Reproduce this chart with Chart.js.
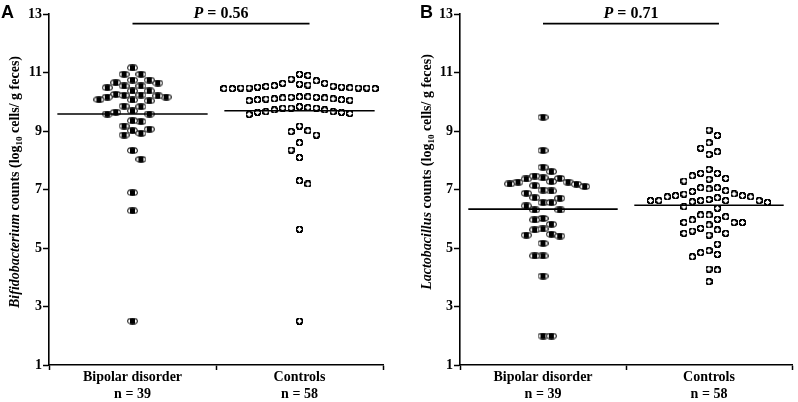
<!DOCTYPE html>
<html><head><meta charset="utf-8">
<script src="https://cdn.jsdelivr.net/npm/chart.js@4/dist/chart.umd.min.js"></script>
<style>
body{margin:0;background:#fff;width:798px;height:402px;overflow:hidden;position:relative}
canvas{position:absolute;top:0}
#ca{left:0}#cb{left:399px}
</style></head><body>
<canvas id="ca" width="399" height="402"></canvas>
<canvas id="cb" width="399" height="402"></canvas>
<script>
// ---------- data ----------
const groups = ['Bipolar disorder', 'Controls'];
const yTicks = [1, 3, 5, 7, 9, 11, 13];

const bifidoBipolar = [11.16, 10.94, 10.94, 10.74, 10.65, 10.54, 10.48, 10.54, 10.64, 10.74,
  10.37, 10.25, 10.22, 10.16, 10.06, 10.03, 10.07, 10.16, 10.20, 10.23, 10.37,
  9.85, 9.69, 9.58, 9.58, 9.64, 9.83, 9.32, 9.17, 9.35, 9.01, 8.86, 8.92, 9.06,
  8.33, 8.03, 6.89, 6.27, 2.50];
const bifidoControls = [10.90, 10.72, 10.77, 10.94,
  10.63, 10.60, 10.55, 10.52, 10.50, 10.47, 10.45, 10.45, 10.45, 10.47, 10.47, 10.47, 10.48, 10.50, 10.53, 10.57, 10.63,
  10.17, 10.15, 10.13, 10.10, 10.07, 10.05, 10.04, 10.07, 10.09, 10.10, 10.13, 10.15, 10.17,
  9.83, 9.80, 9.78, 9.72, 9.64, 9.60, 9.57, 9.64, 9.66, 9.66, 9.72, 9.78, 9.78,
  9.17, 9.01, 8.98, 8.86, 8.60, 8.35, 8.09, 7.30, 7.19, 5.64, 2.50];
const bifidoCenter = [9.58, 9.69];
const bifidoP = '0.56';

const lactoBipolar = [9.47, 8.33, 7.76, 7.61,
  7.40, 7.38, 7.25, 7.25, 7.27, 7.36, 7.46,
  7.18, 7.10, 6.95, 6.87, 6.98, 7.13, 7.19,
  6.70, 6.55, 6.44, 6.55, 6.72, 6.30, 6.30, 6.01, 5.96, 5.81, 5.62, 5.65, 5.47, 5.41, 5.44, 5.16, 4.73, 4.73,
  4.04, 1.99, 1.99];
const lactoControls = [9.03, 8.85, 8.60, 8.29, 8.20, 8.41,
  7.55, 7.38, 7.69, 7.29, 7.35, 7.47, 7.55,
  7.06, 7.02, 6.93, 6.84, 6.79, 6.75, 6.75, 6.79, 6.85, 6.96, 7.06,
  6.72, 6.62, 6.62, 6.62, 6.56, 6.36, 6.41, 6.58, 6.62, 6.62, 6.66,
  6.13, 6.07, 5.87, 5.96, 5.87, 5.98, 6.13, 5.79, 5.87,
  5.67, 5.58, 5.44, 5.50, 5.62, 5.50,
  5.13, 4.84, 4.70, 4.78, 4.91,
  4.28, 4.25, 3.85];
const lactoCenter = [6.33, 6.46];
const lactoP = '0.71';

// ---------- styling / layout ----------
const SERIF = '"Liberation Serif", "Times New Roman", serif';
const PX_PER_X = 167;      // approx pixels per category unit
const PX_PER_Y = 29.25;    // approx pixels per log unit

function bipolarMarker() {
  const c = document.createElement('canvas'); c.width = 11; c.height = 7;
  const g = c.getContext('2d');
  g.fillStyle = '#fff'; g.strokeStyle = '#222'; g.lineWidth = 1.1;
  g.beginPath(); g.ellipse(5.5, 3.5, 4.9, 2.9, 0, 0, Math.PI * 2); g.fill(); g.stroke();
  g.fillStyle = '#000'; g.fillRect(3, 1, 5, 5);
  return c;
}
function controlMarker() {
  const c = document.createElement('canvas'); c.width = 7; c.height = 7;
  const g = c.getContext('2d');
  g.fillStyle = '#000'; g.fillRect(0, 0, 7, 7);
  g.clearRect(0, 0, 1, 1); g.clearRect(6, 0, 1, 1); g.clearRect(0, 6, 1, 1); g.clearRect(6, 6, 1, 1);
  g.fillStyle = '#fff'; g.fillRect(2, 2, 3, 3); g.fillRect(3, 1, 1, 5); g.fillRect(1, 3, 5, 1);
  return c;
}
const mBip = bipolarMarker(), mCtl = controlMarker();

// beeswarm offsets (px) computed from the values
function swarm(vals, w, h) {
  const order = vals.map((v, i) => i).sort((a, b) => vals[b] - vals[a]);
  const placed = []; const off = new Array(vals.length); let side = 1;
  for (const i of order) {
    const y = vals[i] * PX_PER_Y;
    const near = placed.filter(p => Math.abs(p.y - y) < h);
    let cands = [0];
    near.forEach(p => cands.push(p.x + w, p.x - w));
    cands = [...new Set(cands.map(c => Math.round(c * 1000) / 1000))];
    cands.sort((a, b) => (Math.abs(a) - Math.abs(b)) || (side * (b - a)));
    let best = 0;
    for (const c of cands) {
      if (near.every(p => Math.abs(p.x - c) >= w - 1e-6)) { best = c; break; }
    }
    if (best !== 0) side = best > 0 ? -1 : 1;
    placed.push({ x: best, y }); off[i] = best;
  }
  return off;
}
function points(vals, center, w, h) {
  const off = swarm(vals, w, h);
  return vals.map((v, i) => ({ x: center + off[i] / PX_PER_X, y: v }));
}

const decor = {
  id: 'decor',
  afterDraw(chart, args, o) {
    const { ctx, scales: { x, y } } = chart;
    ctx.save();
    ctx.fillStyle = '#000';
    // panel letter
    ctx.font = 'bold 18px "Liberation Sans", Arial, sans-serif';
    ctx.textAlign = 'left'; ctx.textBaseline = 'alphabetic';
    ctx.fillText(o.letter, o.letterX, 18);
    // P value label
    const bx = (x.getPixelForValue(o.br[0]) + x.getPixelForValue(o.br[1])) / 2;
    const by = y.getPixelForValue(o.brY) - 6;
    const f1 = 'italic bold 16px ' + SERIF, f2 = 'bold 16px ' + SERIF;
    ctx.font = f1; const w1 = ctx.measureText('P').width;
    ctx.font = f2; const t2 = ' = ' + o.p; const w2 = ctx.measureText(t2).width;
    let sx = bx - (w1 + w2) / 2;
    ctx.font = f1; ctx.fillText('P', sx, by);
    ctx.font = f2; ctx.fillText(t2, sx + w1, by);
    // y-axis title (rotated, with italic genus and subscript)
    ctx.translate(o.titleX, o.titleY); ctx.rotate(-Math.PI / 2);
    const fs = 14;
    const segs = [
      { t: o.genus, f: 'italic bold ' + fs + 'px ' + SERIF, dy: 0 },
      { t: ' counts (log', f: 'bold ' + fs + 'px ' + SERIF, dy: 0 },
      { t: '10', f: 'bold 9px ' + SERIF, dy: 3 },
      { t: ' cells/ g feces)', f: 'bold ' + fs + 'px ' + SERIF, dy: 0 }
    ];
    let tot = 0;
    segs.forEach(s => { ctx.font = s.f; s.w = ctx.measureText(s.t).width; tot += s.w; });
    let cx = -tot / 2;
    segs.forEach(s => { ctx.font = s.f; ctx.fillText(s.t, cx, s.dy); cx += s.w; });
    ctx.restore();
  }
};

function makeChart(id, bip, ctl, center, p, letter, layout) {
  const centers = [0.5, 1.5];
  const half = 0.45;
  const n = [bip.length, ctl.length];
  const bracketY = 12.67;
  return new Chart(document.getElementById(id), {
    type: 'scatter',
    data: {
      datasets: [
        { type: 'line', data: [{ x: centers[0] - half, y: center[0] }, { x: centers[0] + half, y: center[0] }],
          borderColor: '#000', borderWidth: 1.6, pointRadius: 0, order: 0 },
        { type: 'line', data: [{ x: centers[1] - half, y: center[1] }, { x: centers[1] + half, y: center[1] }],
          borderColor: '#000', borderWidth: 1.6, pointRadius: 0, order: 0 },
        { type: 'line', data: [{ x: 0.5, y: bracketY }, { x: 1.56, y: bracketY }],
          borderColor: '#000', borderWidth: 1.6, pointRadius: 0, order: 0, clip: false },
        { data: points(bip, centers[0], 8.4, 9), pointStyle: mBip, pointRadius: 5, order: 1 },
        { data: points(ctl, centers[1], 8.4, 9.5), pointStyle: mCtl, pointRadius: 4, order: 1 }
      ]
    },
    options: {
      responsive: false, animation: false, devicePixelRatio: 1,
      layout: { padding: { top: 14, right: layout.right, left: 0, bottom: 0 } },
      plugins: {
        legend: { display: false }, tooltip: { enabled: false },
        decor: { letter, letterX: layout.letterX, p, br: [0.5, 1.56], brY: bracketY,
                 genus: layout.genus, titleX: layout.titleX, titleY: layout.titleY }
      },
      scales: {
        x: {
          type: 'linear', min: 0, max: 2,
          afterBuildTicks: s => { s.ticks = [0, 0.5, 1, 1.5, 2].map(v => ({ value: v })); },
          afterFit: s => { s.height = 37; },
          ticks: {
            autoSkip: false, maxRotation: 0, color: '#000', padding: -1,
            font: { family: SERIF, size: 14, weight: 'bold', lineHeight: 1.2 },
            callback: v => v === 0.5 ? [groups[0], 'n = ' + n[0]] : v === 1.5 ? [groups[1], 'n = ' + n[1]] : ''
          },
          grid: {
            drawOnChartArea: false, tickLength: 5, tickWidth: 1.5,
            tickColor: c => (c.tick && c.tick.value % 1 === 0) ? '#000' : 'rgba(0,0,0,0)'
          },
          border: { color: '#000', width: 1.6 }
        },
        y: {
          min: 1, max: 13,
          afterBuildTicks: s => { s.ticks = yTicks.map(v => ({ value: v })); },
          afterFit: s => { s.width = layout.yw; },
          ticks: { color: '#000', padding: 1, font: { family: SERIF, size: 14, weight: 'bold' } },
          grid: { drawOnChartArea: false, tickLength: 6, tickWidth: 1.5, tickColor: '#000' },
          border: { color: '#000', width: 1.6 }
        }
      }
    },
    plugins: [decor]
  });
}

makeChart('ca', bifidoBipolar, bifidoControls, bifidoCenter, bifidoP, 'A',
  { right: 16, yw: 49, letterX: 1, genus: 'Bifidobacterium', titleX: 19, titleY: 182 });
makeChart('cb', lactoBipolar, lactoControls, lactoCenter, lactoP, 'B',
  { right: 4, yw: 61, letterX: 21, genus: 'Lactobacillus', titleX: 32, titleY: 172 });
</script>
</body></html>
